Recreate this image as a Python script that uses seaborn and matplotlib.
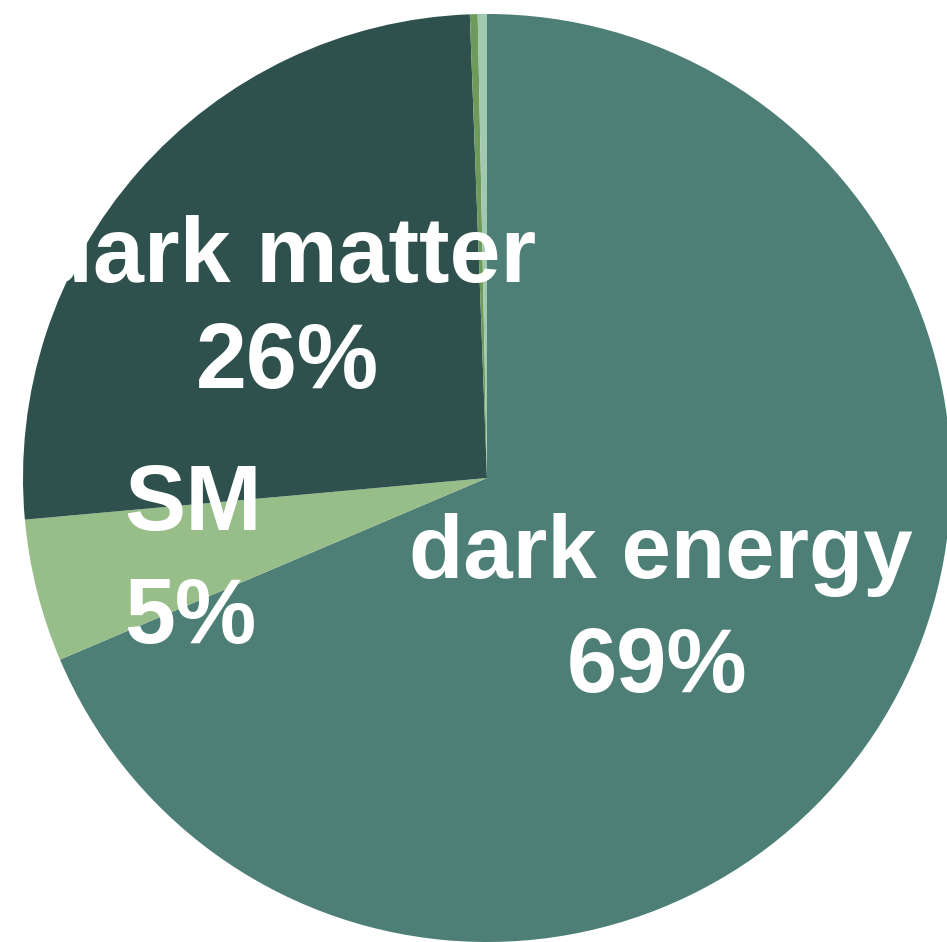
import matplotlib
matplotlib.use("Agg")
import matplotlib.pyplot as plt
import seaborn as sns

# Data
categories = ["dark energy", "SM", "dark matter", "neutrinos", "photons"]
values = [68.6, 4.97, 25.84, 0.27, 0.32]
colors = ["#4d7f76", "#97bd89", "#2e514d", "#6e9a5c", "#a0c9b0"]
label_lines = [("dark energy", "69%"), ("SM", "5%"), ("dark matter", "26%")]

sns.set_theme(style="white")
plt.rcParams['font.family'] = ['Liberation Sans', 'DejaVu Sans']

W, H = 947, 942
fig = plt.figure(figsize=(W / 100, H / 100), dpi=100)
ax = fig.add_axes([0, 0, 1, 1])

cx, cy, R = 487, 478, 464
ax.pie(values, colors=sns.color_palette(colors), startangle=90, counterclock=False,
       radius=1, center=(0, 0), wedgeprops=dict(linewidth=0))

ax.set_xlim((0 - cx) / R, (W - cx) / R)
ax.set_ylim((cy - H) / R, (cy - 0) / R)
ax.set_aspect('auto')
ax.axis('off')

def px(x, y):
    return (x - cx) / R, (cy - y) / R

# label positions in pixels (center x, baseline y, fontsize) per line
label_pos = [((661, 578, 64), (657, 692, 65)),
             ((193, 530, 66), (190, 643, 66)),
             ((287, 282, 66), (287, 388, 66))]

for (l1, l2), (p1, p2) in zip(label_lines, label_pos):
    for txt, p in ((l1, p1), (l2, p2)):
        x, y = px(p[0], p[1])
        ax.text(x, y, txt, ha='center', va='baseline', color='white',
                fontsize=p[2], fontweight='bold')

fig.savefig("out.png", dpi=100, facecolor='white')
